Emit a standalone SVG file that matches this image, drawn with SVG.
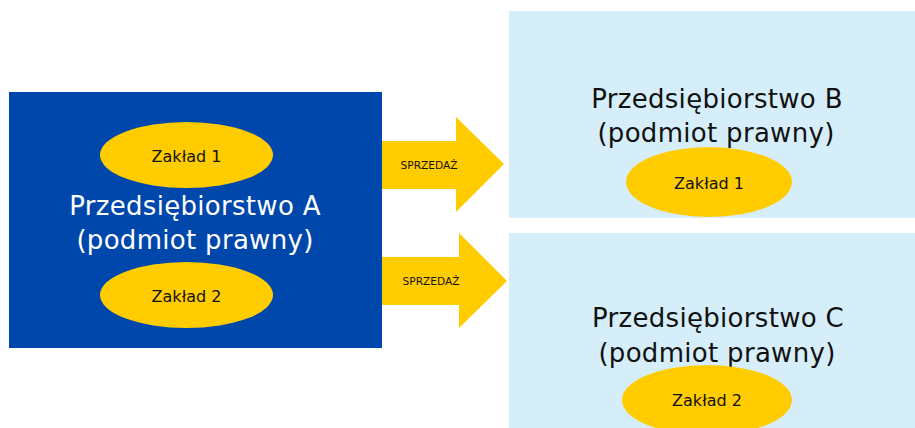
<svg xmlns="http://www.w3.org/2000/svg" width="915" height="428" viewBox="0 0 915 428">
<style>
.big{font-family:"DejaVu Sans","Verdana",sans-serif;font-size:26px;text-anchor:middle;letter-spacing:0.3px}
.small{font-family:"DejaVu Sans","Verdana",sans-serif;font-size:16px;text-anchor:middle;fill:#111}
.lbl{font-family:"DejaVu Sans","Verdana",sans-serif;font-size:10.6px;text-anchor:middle;fill:#111}
.yel{fill:#FFCC00}
.lb{fill:#D6EEF9}
</style>
<rect width="915" height="428" fill="#ffffff"/>
<g id="connectors">
<g id="arrow1">
<polygon class="yel" points="382,141 456,141 456,117 504,164 456,212 456,189 382,189"/>
<text class="lbl" x="429" y="169">SPRZEDAŻ</text>
</g>
<g id="arrow2">
<polygon class="yel" points="382,257 459,257 459,233 507,281 459,328 459,305 382,305"/>
<text class="lbl" x="431" y="285">SPRZEDAŻ</text>
</g>
</g>
<g id="nodeA">
<rect x="9" y="92" width="373" height="256" fill="#0047AB"/>
<text class="big" x="195" y="215" fill="#ffffff">Przedsiębiorstwo A</text>
<text class="big" x="195" y="249" fill="#ffffff">(podmiot prawny)</text>
</g>
<g id="nodeA1">
<ellipse class="yel" cx="186.5" cy="155" rx="86.5" ry="33"/>
<text class="small" x="186.5" y="162">Zakład 1</text>
</g>
<g id="nodeA2">
<ellipse class="yel" cx="186.5" cy="295" rx="86.5" ry="33"/>
<text class="small" x="186.5" y="302">Zakład 2</text>
</g>
<g id="nodeB">
<rect class="lb" x="509" y="11" width="406" height="207"/>
<text class="big" x="717" y="108" fill="#111">Przedsiębiorstwo B</text>
<text class="big" x="716" y="142" fill="#111">(podmiot prawny)</text>
</g>
<g id="nodeB1">
<ellipse class="yel" cx="709" cy="182" rx="83" ry="35"/>
<text class="small" x="709" y="189">Zakład 1</text>
</g>
<g id="nodeC">
<rect class="lb" x="509" y="233" width="406" height="195"/>
<text class="big" x="718" y="327" fill="#111">Przedsiębiorstwo C</text>
<text class="big" x="717" y="362" fill="#111">(podmiot prawny)</text>
</g>
<g id="nodeC2">
<ellipse class="yel" cx="707" cy="400" rx="85" ry="35"/>
<text class="small" x="707" y="406">Zakład 2</text>
</g>
</svg>
